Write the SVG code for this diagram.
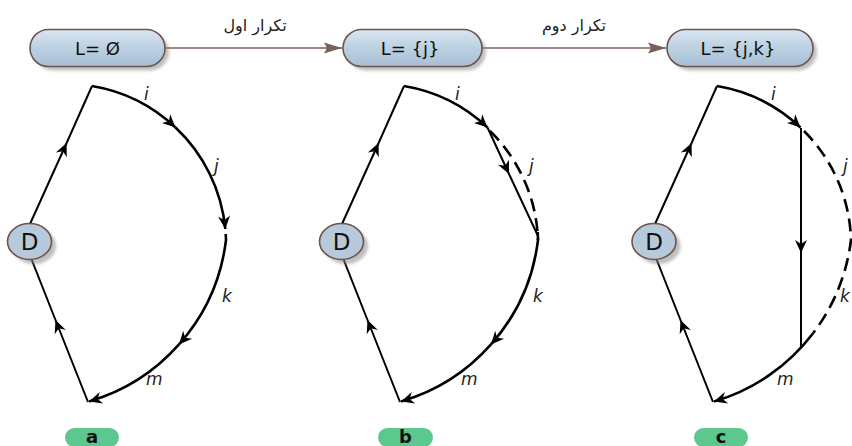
<svg xmlns="http://www.w3.org/2000/svg" width="852" height="446" viewBox="0 0 852 446">
<style>
.pill{stroke:#6e544c;stroke-width:1.6;fill:url(#pg)}
.ptxt{font-family:"DejaVu Sans",sans-serif;font-size:18px;fill:#111;text-anchor:middle}
.conn{stroke:#7a625a;stroke-width:1.6;fill:none}
.fa{font-family:"DejaVu Sans",sans-serif;font-size:16px;fill:#222;text-anchor:middle}
.arc{stroke:#000;stroke-width:2.6;fill:none}
.ln{stroke:#000;stroke-width:2;fill:none}
.dash{stroke:#000;stroke-width:2.6;fill:none;stroke-dasharray:13 7}
.lbl{font-family:"DejaVu Sans",sans-serif;font-style:italic;font-size:17px;fill:#222}
.dnode{fill:#b6cadc;stroke:#6e544c;stroke-width:1.6}
.dtxt{font-family:"DejaVu Sans",sans-serif;font-size:23px;fill:#111;text-anchor:middle}
.shadow{fill:#8a8a8a;opacity:.55;filter:url(#blur)}
.tag{fill:#5dc88e}
.tagt{font-family:"DejaVu Sans",sans-serif;font-weight:bold;font-size:18px;fill:#111;text-anchor:middle}
</style>
<defs>
<linearGradient id="pg" x1="0" y1="0" x2="0" y2="1">
<stop offset="0" stop-color="#d9e6f1"/>
<stop offset="0.45" stop-color="#bfd2e3"/>
<stop offset="1" stop-color="#a6bfd6"/>
</linearGradient>
<filter id="blur" x="-20%" y="-20%" width="140%" height="140%"><feGaussianBlur stdDeviation="1.8"/></filter>
<marker id="ah" markerUnits="userSpaceOnUse" markerWidth="16" markerHeight="14" viewBox="-14 -7 16 14" refX="0" refY="0" orient="auto">
<path d="M0,0 L-13,-6 L-9,0 L-13,6 Z" fill="#000"/>
</marker>
<marker id="bh" markerUnits="userSpaceOnUse" markerWidth="20" markerHeight="14" viewBox="-19 -7 20 14" refX="0" refY="0" orient="auto">
<path d="M0,0 L-18,-5.5 L-15,0 L-18,5.5 Z" fill="#7a625a"/>
</marker>
</defs>

<g id="top-connectors">
<path class="conn" d="M165,48 L342,48" marker-end="url(#bh)"/>
<path class="conn" d="M482,48 L666,48" marker-end="url(#bh)"/>
<text class="fa" x="255" y="31">تکرار اول</text>
<text class="fa" x="574" y="31">تکرار دوم</text>
</g>

<g id="node-L0">
<rect class="shadow" x="34" y="33.5" width="135" height="37" rx="18.5"/>
<rect class="pill" x="30" y="29.5" width="135" height="37" rx="18.5"/>
<text class="ptxt" x="97.5" y="54.5">L= Ø</text>
</g>
<g id="node-L1">
<rect class="shadow" x="347" y="33.5" width="139" height="37" rx="18.5"/>
<rect class="pill" x="343" y="29.5" width="139" height="37" rx="18.5"/>
<text class="ptxt" x="410" y="54.5">L= {j}</text>
</g>
<g id="node-L2">
<rect class="shadow" x="671" y="33.5" width="146" height="37" rx="18.5"/>
<rect class="pill" x="667" y="29.5" width="146" height="37" rx="18.5"/>
<text class="ptxt" x="738" y="54.5">L= {j,k}</text>
</g>

<g id="connectors">
<g id="edges-a">
<path class="ln" d="M30,224 L66.6,143 L92,86" marker-mid="url(#ah)"/>
<path class="ln" d="M88,402 L55.5,320 L31,258" marker-mid="url(#ah)"/>
<path class="arc" d="M92,86 A160,160 0 0 1 175.5,127.5" marker-end="url(#ah)"/>
<path class="arc" d="M175.5,127.5 A160,160 0 0 1 225.3,229" marker-end="url(#ah)"/>
<path class="arc" d="M225.7,234 A160,160 0 0 1 226,240 A192,192 0 0 1 179,344.4" marker-end="url(#ah)"/>
<path class="arc" d="M179,344.4 A192,192 0 0 1 89,401.5" marker-end="url(#ah)"/>
</g>
<g id="edges-b" transform="translate(312,0)">
<path class="ln" d="M30,224 L66.6,143 L92,86" marker-mid="url(#ah)"/>
<path class="ln" d="M88,402 L55.5,320 L31,258" marker-mid="url(#ah)"/>
<path class="arc" d="M92,86 A160,160 0 0 1 175.5,127.5" marker-end="url(#ah)"/>
<path class="ln" d="M175.5,127.5 L197,174 L226,236" marker-mid="url(#ah)"/>
<path class="dash" d="M178,131 A160,160 0 0 1 226,240"/>
<path class="arc" d="M225.7,232 A160,160 0 0 1 226,240 A192,192 0 0 1 179,344.4" marker-end="url(#ah)"/>
<path class="arc" d="M179,344.4 A192,192 0 0 1 89,401.5" marker-end="url(#ah)"/>
</g>
<g id="edges-c" transform="translate(625,0)">
<path class="ln" d="M30,224 L66.6,143 L92,86" marker-mid="url(#ah)"/>
<path class="ln" d="M88,402 L55.5,320 L31,258" marker-mid="url(#ah)"/>
<path class="arc" d="M92,86 A160,160 0 0 1 175.5,127.5" marker-end="url(#ah)"/>
<path class="ln" d="M176,128 L176,253 L176,348" marker-mid="url(#ah)"/>
<path class="dash" d="M179,131 A160,160 0 0 1 226,240 A192,192 0 0 1 187.9,333.5"/>
<path class="arc" d="M187.9,333.5 A192,192 0 0 1 89,401.5" marker-end="url(#ah)"/>
</g>
</g>

<g id="labels-a">
<text class="lbl" x="144" y="100">i</text>
<text class="lbl" x="214" y="172">j</text>
<text class="lbl" x="222" y="302">k</text>
<text class="lbl" x="146" y="385">m</text>
</g>
<g id="labels-b" transform="translate(312,0)">
<text class="lbl" x="143" y="100">i</text>
<text class="lbl" x="217" y="172">j</text>
<text class="lbl" x="221" y="302">k</text>
<text class="lbl" x="149" y="385">m</text>
</g>
<g id="labels-c" transform="translate(625,0)">
<text class="lbl" x="146" y="100">i</text>
<text class="lbl" x="218" y="172">j</text>
<text class="lbl" x="215" y="302">k</text>
<text class="lbl" x="152" y="385">m</text>
</g>

<g id="node-Da">
<ellipse class="shadow" cx="34" cy="246" rx="22" ry="18"/>
<ellipse class="dnode" cx="29.5" cy="241.5" rx="22" ry="18"/>
<text class="dtxt" x="29.5" y="250">D</text>
</g>
<g id="node-Db">
<ellipse class="shadow" cx="346" cy="246" rx="22" ry="18"/>
<ellipse class="dnode" cx="341.5" cy="241.5" rx="22" ry="18"/>
<text class="dtxt" x="341.5" y="250">D</text>
</g>
<g id="node-Dc">
<ellipse class="shadow" cx="658.5" cy="246" rx="22" ry="18"/>
<ellipse class="dnode" cx="654" cy="241.5" rx="22" ry="18"/>
<text class="dtxt" x="654" y="250">D</text>
</g>

<g id="tag-a">
<rect class="tag" x="65" y="428" width="54" height="19" rx="9.5"/>
<text class="tagt" x="92" y="443">a</text>
</g>
<g id="tag-b">
<rect class="tag" x="378" y="428" width="55" height="19" rx="9.5"/>
<text class="tagt" x="405.5" y="443">b</text>
</g>
<g id="tag-c">
<rect class="tag" x="694" y="428" width="54" height="19" rx="9.5"/>
<text class="tagt" x="721" y="443">c</text>
</g>
</svg>
